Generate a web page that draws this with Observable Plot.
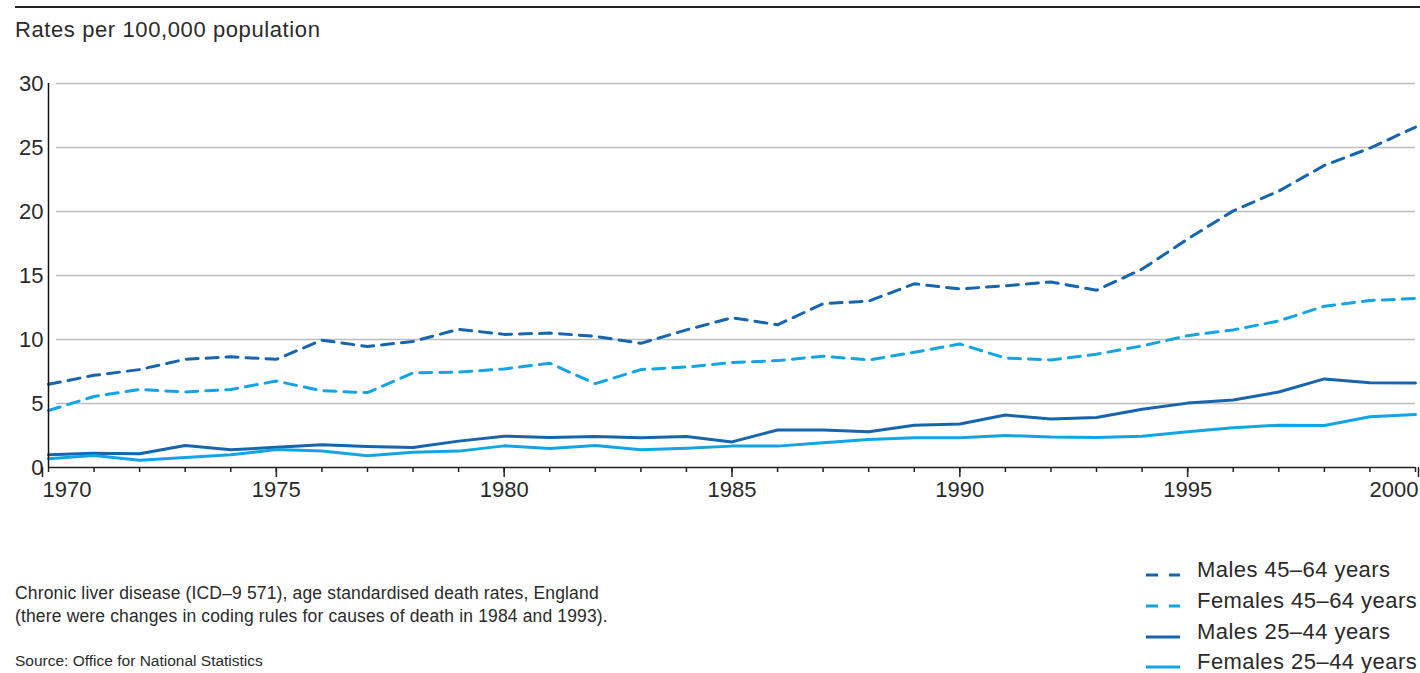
<!DOCTYPE html>
<html>
<head>
<meta charset="utf-8">
<script src="https://cdn.jsdelivr.net/npm/d3@7"></script>
<script src="https://cdn.jsdelivr.net/npm/@observablehq/plot@0.6"></script>
<style>
  html, body { margin: 0; padding: 0; background: #fff; }
  body { width: 1420px; height: 673px; position: relative; overflow: hidden;
         font-family: "Liberation Sans", Arial, sans-serif; color: #2a2a2a; }
  #rule { position: absolute; left: 15px; right: 0; top: 6px; height: 0; border-top: 2px solid #222; }
  #title { position: absolute; left: 15px; top: 17px; font-size: 22px; letter-spacing: 0.6px; }
  #chart { position: absolute; left: 0; top: 60px; }
  #caption { position: absolute; left: 15px; top: 582px; font-size: 17.5px; line-height: 23px; letter-spacing: 0.15px; }
  #source { position: absolute; left: 15px; top: 652px; font-size: 15.5px; }
  #legend { position: absolute; left: 1145px; top: 555px; font-size: 22px; letter-spacing: 0.45px; }
  .li { display: flex; align-items: center; height: 30.7px; }
  .li svg { margin-right: 16px; margin-top: 10px; }
</style>
</head>
<body>
<div id="rule"></div>
<div id="title">Rates per 100,000 population</div>
<div id="chart"></div>
<div id="caption">Chronic liver disease (ICD–9 571), age standardised death rates, England<br>(there were changes in coding rules for causes of death in 1984 and 1993).</div>
<div id="source">Source: Office for National Statistics</div>
<div id="legend"></div>
<script>
const years = d3.range(1970, 2001);
const males4564 = [6.5, 7.2, 7.65, 8.45, 8.65, 8.45, 9.95, 9.45, 9.85, 10.8,
  10.4, 10.5, 10.25, 9.7, 10.75, 11.7, 11.15, 12.8, 13.0, 14.35,
  13.95, 14.2, 14.5, 13.85, 15.5, 17.85, 20.05, 21.6, 23.6, 24.95, 26.6];
const females4564 = [4.45, 5.55, 6.1, 5.9, 6.1, 6.75, 6.0, 5.85, 7.4, 7.45,
  7.7, 8.15, 6.55, 7.65, 7.85, 8.2, 8.35, 8.7, 8.4, 9.0,
  9.65, 8.55, 8.4, 8.85, 9.5, 10.3, 10.75, 11.45, 12.6, 13.05, 13.2];
const males2544 = [1.0, 1.12, 1.07, 1.72, 1.38, 1.58, 1.77, 1.64, 1.56, 2.06,
  2.45, 2.35, 2.42, 2.32, 2.42, 2.0, 2.93, 2.92, 2.8, 3.3,
  3.4, 4.1, 3.78, 3.9, 4.55, 5.03, 5.28, 5.9, 6.92, 6.63, 6.6];
const females2544 = [0.68, 0.94, 0.57, 0.78, 0.99, 1.4, 1.28, 0.91, 1.2, 1.28,
  1.69, 1.48, 1.72, 1.38, 1.51, 1.67, 1.67, 1.93, 2.19, 2.33,
  2.32, 2.5, 2.38, 2.34, 2.45, 2.79, 3.1, 3.31, 3.28, 3.96, 4.14];
const seriesNames = ["Males 45–64 years", "Females 45–64 years", "Males 25–44 years", "Females 25–44 years"];
const seriesValues = [males4564, females4564, males2544, females2544];
const yTicks = [0, 5, 10, 15, 20, 25, 30];
const gridTicks = [5, 10, 15, 20, 25, 30];
const majorYears = [1970, 1975, 1980, 1985, 1990, 1995, 2000];

const dark = "#1765ad";
const light = "#12a5e5";
const colors = [dark, light, dark, light];
const dashes = ["12,8", "12,8", null, null];

const rows = [];
seriesNames.forEach((name, i) => {
  years.forEach((yr, j) => rows.push({series: name, year: yr, value: seriesValues[i][j]}));
});

const lineMarks = seriesNames.map((name, i) =>
  Plot.line(rows.filter(r => r.series === name), {
    x: "year", y: "value", stroke: colors[i], strokeWidth: 3,
    strokeDasharray: dashes[i] ?? undefined
  })
);

const chart = Plot.plot({
  width: 1420,
  height: 450,
  marginTop: 23,
  marginBottom: 43,
  marginLeft: 48,
  marginRight: 5,
  style: {fontFamily: "'Liberation Sans', Arial, sans-serif", fontSize: "22px", color: "#2a2a2a", background: "transparent"},
  x: {domain: [1970, 2000]},
  y: {domain: [0, 30]},
  marks: [
    Plot.ruleY(gridTicks, {stroke: "#bdbdbd", strokeWidth: 1.5, insetLeft: 8}),
    Plot.axisY(yTicks, {tickSize: 0, tickPadding: 5, label: null, fontSize: 22}),
    Plot.axisX(years, {tickSize: 5, tickFormat: () => "", label: null, stroke: "#222", strokeWidth: 1.5}),
    Plot.axisX([1970], {tickSize: 10, tickFormat: d => String(d), label: null, textAnchor: "start", dx: -6, tickPadding: 4, fontSize: 22, stroke: "#222", strokeWidth: 1.5}),
    Plot.axisX(majorYears.slice(1, -1), {tickSize: 10, tickFormat: d => String(d), label: null, tickPadding: 4, fontSize: 22, stroke: "#222", strokeWidth: 1.5}),
    Plot.axisX([2000], {tickSize: 10, tickFormat: d => String(d), label: null, textAnchor: "end", dx: 3, tickPadding: 4, fontSize: 22, stroke: "#222", strokeWidth: 1.5}),
    ...lineMarks,
    Plot.ruleX([1970], {y1: 0, y2: 30, stroke: "#111", strokeWidth: 1.5}),
    Plot.ruleY([0], {stroke: "#222", strokeWidth: 1.5})
  ]
});
document.getElementById("chart").appendChild(chart);

const legend = document.getElementById("legend");
seriesNames.forEach((name, i) => {
  const row = document.createElement("div");
  row.className = "li";
  const dash = dashes[i] ? `stroke-dasharray="12,11"` : "";
  row.innerHTML = `<svg width="36" height="6"><line x1="1" y1="3" x2="35" y2="3" stroke="${colors[i]}" stroke-width="3" ${dash}/></svg><span>${name}</span>`;
  legend.appendChild(row);
});
</script>
</body>
</html>
